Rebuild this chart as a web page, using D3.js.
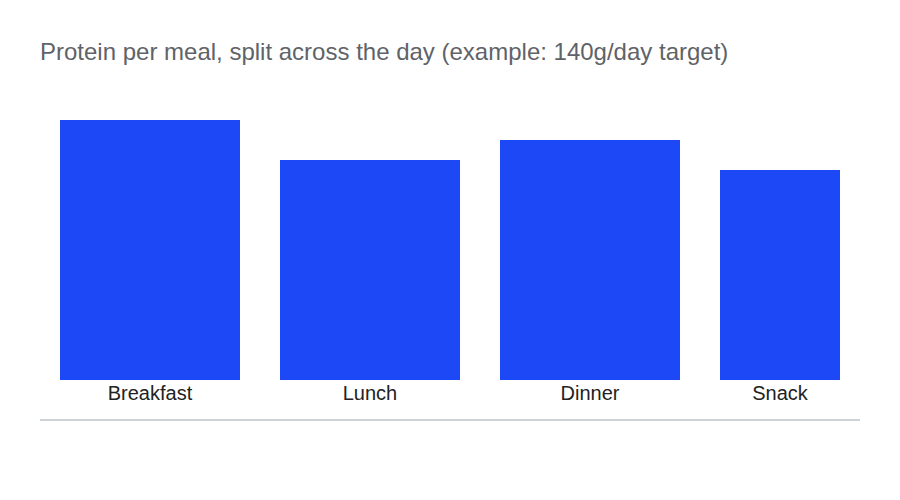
<!DOCTYPE html>
<html><head><meta charset="utf-8">
<script src="https://cdn.jsdelivr.net/npm/d3@7"></script>
<style>body{margin:0;background:#fff}svg{display:block}</style>
</head><body>
<svg id="c" width="900" height="500"></svg>
<script>
const title = "Protein per meal, split across the day (example: 140g/day target)";
const meals = ["Breakfast", "Lunch", "Dinner", "Snack"];
const proteinGrams = [39, 33, 36, 31.5];

const svg = d3.select("#c");
const font = "'Liberation Sans', Arial, sans-serif";
svg.append("rect").attr("width",900).attr("height",500).attr("fill","#fff");

svg.append("text").attr("x",40).attr("y",60).text(title)
  .attr("font-family",font).attr("font-size",24).attr("fill","#5f6368");

const plotLeft = 40, plotRight = 840;
const x = d3.scaleBand().domain(meals).range([40, 920]);
const y = d3.scaleLinear().domain([0, d3.max(proteinGrams)]).range([380, 120]);
const inset = 20;

svg.append("defs").append("clipPath").attr("id","clip")
  .append("rect").attr("x",plotLeft).attr("y",0).attr("width",plotRight-plotLeft).attr("height",500);

const data = meals.map((m,i)=>({m, v: proteinGrams[i]}));
const left = d => x(d.m) + inset;
const right = d => Math.min(x(d.m) + x.bandwidth() - inset, plotRight);

svg.append("g").attr("clip-path","url(#clip)").selectAll("rect").data(data).join("rect")
  .attr("x", left).attr("width", d => right(d) - left(d))
  .attr("y", d => y(d.v)).attr("height", d => y(0) - y(d.v))
  .attr("fill", "#1c48f5");

svg.append("g").selectAll("text").data(data).join("text")
  .attr("x", d => (left(d)+right(d))/2).attr("y", 400)
  .attr("text-anchor","middle").attr("font-family",font).attr("font-size",20)
  .attr("fill","#222").text(d => d.m);

svg.append("line").attr("x1",40).attr("x2",860).attr("y1",420).attr("y2",420)
  .attr("stroke","#cdd2d6").attr("stroke-width",2);
</script>
</body></html>
